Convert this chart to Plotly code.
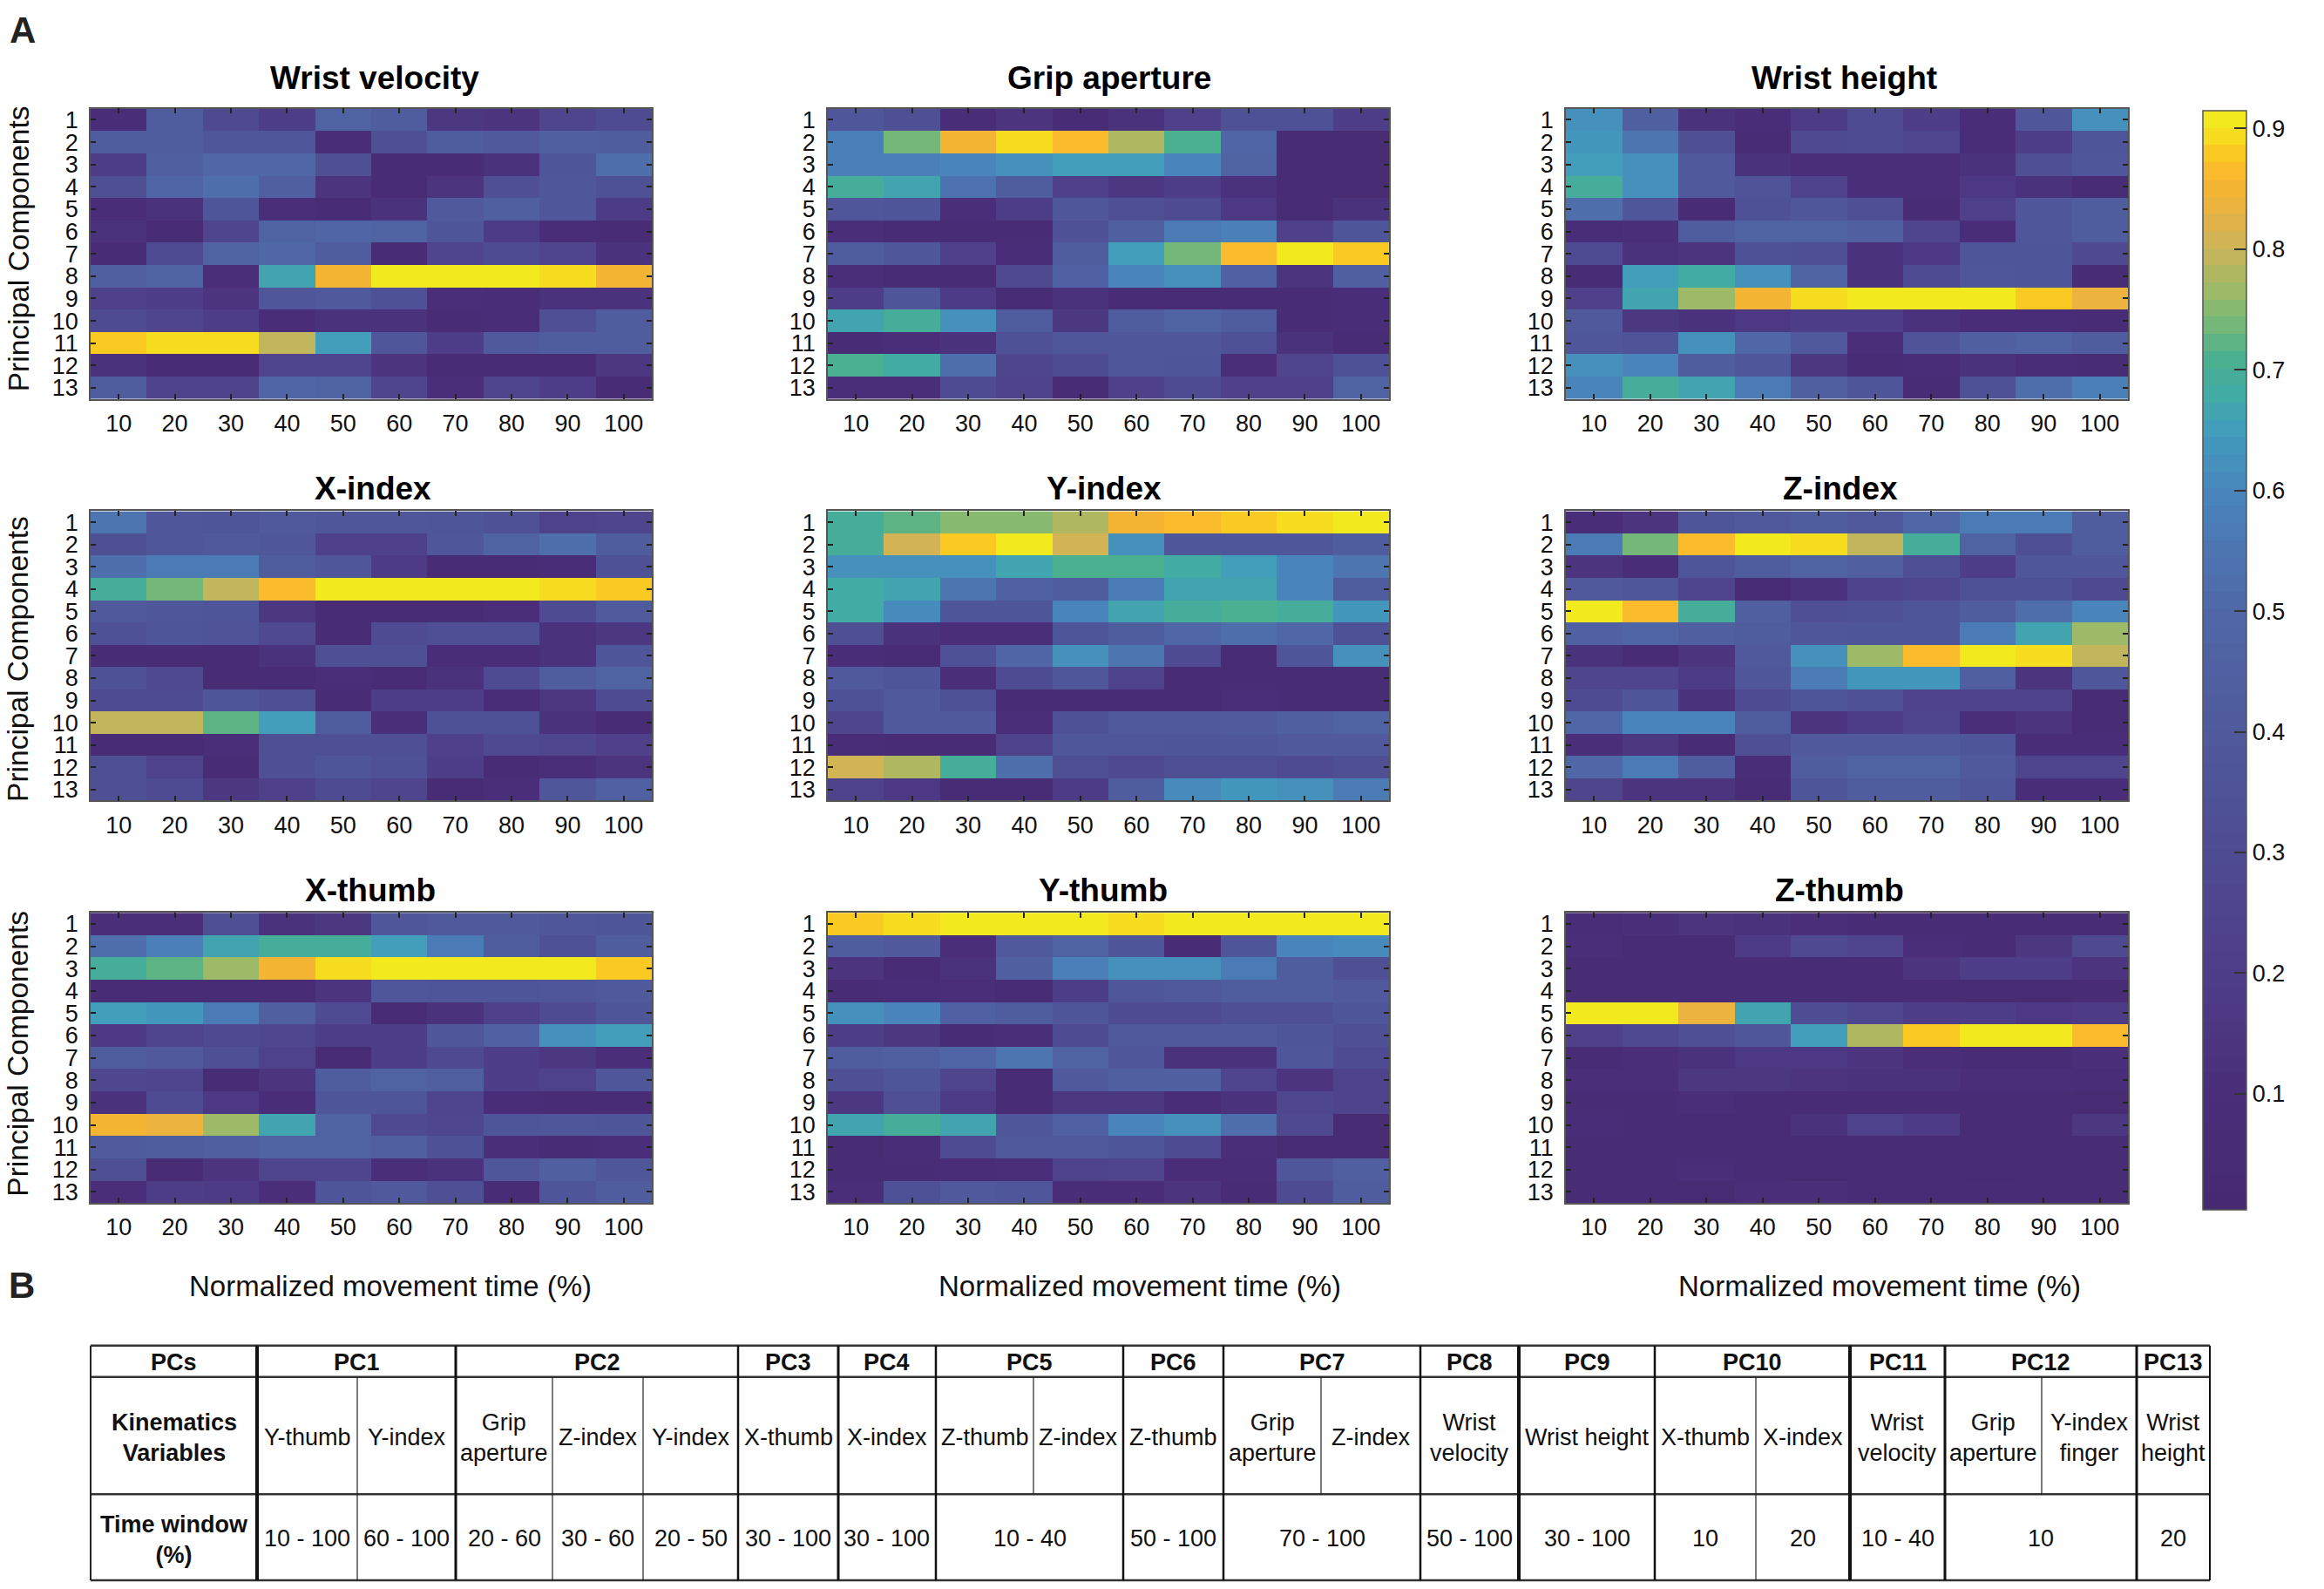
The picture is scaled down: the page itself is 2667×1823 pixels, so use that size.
import plotly.graph_objects as go
from plotly.colors import sample_colorscale

W = 2667
H = 1823
FONT = "Liberation Sans"

time_ticks = [10, 20, 30, 40, 50, 60, 70, 80, 90, 100]
pc_ticks = [1, 2, 3, 4, 5, 6, 7, 8, 9, 10, 11, 12, 13]
cbar_ticks = [0.1, 0.2, 0.3, 0.4, 0.5, 0.6, 0.7, 0.8, 0.9]

wrist_velocity = [
    [.08, .42, .28, .20, .46, .42, .16, .14, .25, .30],
    [.42, .42, .38, .38, .08, .33, .42, .40, .44, .42],
    [.20, .44, .50, .50, .32, .05, .05, .12, .36, .53],
    [.32, .48, .52, .44, .14, .05, .14, .32, .38, .34],
    [.08, .12, .36, .10, .06, .12, .40, .44, .38, .18],
    [.12, .06, .26, .46, .48, .46, .36, .18, .08, .06],
    [.07, .30, .46, .50, .42, .06, .26, .30, .26, .13],
    [.44, .47, .10, .66, .85, .91, .91, .91, .90, .85],
    [.22, .20, .14, .38, .40, .34, .10, .08, .12, .12],
    [.30, .25, .20, .08, .12, .12, .07, .08, .32, .43],
    [.88, .90, .895, .80, .65, .38, .20, .40, .42, .42],
    [.12, .06, .07, .26, .26, .14, .07, .06, .06, .16],
    [.42, .24, .24, .48, .46, .26, .10, .26, .20, .07],
]
grip_aperture = [
    [.38, .32, .08, .14, .05, .12, .22, .34, .34, .20],
    [.58, .73, .85, .895, .87, .78, .71, .48, .05, .04],
    [.58, .58, .60, .63, .65, .65, .60, .46, .05, .04],
    [.70, .67, .54, .42, .22, .15, .20, .13, .05, .04],
    [.38, .36, .10, .20, .38, .33, .30, .17, .06, .12],
    [.09, .05, .06, .07, .34, .44, .56, .58, .22, .36],
    [.42, .38, .22, .08, .42, .65, .74, .87, .91, .88],
    [.09, .06, .07, .28, .45, .60, .62, .45, .14, .44],
    [.20, .36, .18, .05, .12, .05, .05, .07, .07, .08],
    [.67, .69, .63, .42, .15, .42, .46, .42, .07, .08],
    [.05, .10, .12, .34, .38, .38, .38, .34, .13, .07],
    [.71, .68, .53, .26, .30, .38, .36, .09, .26, .34],
    [.09, .09, .30, .24, .05, .22, .30, .23, .22, .46],
]
wrist_height = [
    [.62, .44, .13, .08, .18, .30, .20, .08, .38, .62],
    [.64, .55, .33, .05, .28, .30, .27, .08, .20, .36],
    [.65, .63, .40, .12, .10, .11, .09, .12, .32, .38],
    [.70, .63, .40, .35, .24, .11, .09, .17, .13, .06],
    [.52, .38, .05, .34, .38, .33, .05, .22, .38, .42],
    [.08, .11, .42, .47, .47, .44, .26, .08, .38, .42],
    [.30, .13, .14, .34, .32, .12, .17, .36, .36, .28],
    [.07, .65, .68, .63, .46, .12, .30, .38, .36, .07],
    [.22, .66, .77, .85, .89, .91, .91, .91, .88, .83],
    [.40, .16, .13, .17, .20, .20, .13, .08, .08, .07],
    [.38, .35, .62, .50, .40, .09, .35, .44, .46, .43],
    [.62, .60, .42, .38, .16, .07, .08, .12, .08, .07],
    [.60, .69, .66, .56, .44, .36, .06, .34, .52, .58],
]
x_index = [
    [.55, .38, .36, .40, .38, .38, .36, .34, .24, .26],
    [.32, .38, .40, .38, .22, .22, .38, .47, .52, .42],
    [.52, .56, .56, .43, .38, .18, .05, .07, .08, .34],
    [.69, .74, .80, .86, .91, .91, .91, .91, .90, .88],
    [.40, .38, .36, .15, .07, .07, .05, .10, .30, .41],
    [.34, .36, .35, .28, .07, .30, .32, .32, .13, .15],
    [.05, .05, .05, .13, .32, .32, .08, .08, .13, .36],
    [.34, .28, .07, .07, .09, .05, .12, .30, .42, .46],
    [.30, .30, .36, .33, .05, .20, .20, .08, .16, .30],
    [.79, .79, .72, .65, .42, .09, .34, .34, .13, .05],
    [.05, .05, .09, .33, .33, .33, .22, .28, .27, .22],
    [.32, .24, .05, .33, .37, .34, .20, .05, .10, .14],
    [.32, .30, .16, .22, .30, .26, .05, .10, .38, .45],
]
y_index = [
    [.69, .72, .75, .75, .78, .85, .87, .875, .90, .91],
    [.70, .81, .88, .905, .81, .63, .38, .38, .38, .43],
    [.62, .62, .62, .67, .71, .71, .68, .65, .60, .55],
    [.68, .66, .55, .45, .43, .56, .67, .67, .59, .42],
    [.68, .61, .36, .36, .60, .67, .69, .71, .70, .64],
    [.32, .12, .09, .10, .36, .43, .50, .53, .50, .34],
    [.08, .07, .34, .48, .62, .55, .30, .07, .36, .62],
    [.40, .36, .10, .30, .38, .24, .07, .07, .05, .06],
    [.34, .40, .34, .05, .07, .05, .06, .09, .05, .07],
    [.26, .40, .40, .10, .34, .40, .40, .41, .44, .46],
    [.08, .07, .05, .24, .38, .38, .37, .38, .40, .40],
    [.81, .78, .69, .52, .33, .28, .33, .32, .30, .33],
    [.24, .17, .06, .05, .18, .43, .61, .64, .62, .56],
]
z_index = [
    [.08, .14, .36, .40, .42, .40, .50, .57, .57, .42],
    [.56, .73, .87, .91, .90, .80, .69, .46, .32, .42],
    [.14, .08, .36, .42, .46, .44, .32, .20, .38, .38],
    [.40, .38, .26, .05, .12, .24, .27, .34, .34, .28],
    [.91, .86, .69, .44, .32, .34, .36, .42, .52, .60],
    [.45, .48, .44, .42, .38, .36, .36, .57, .67, .76],
    [.12, .06, .14, .40, .63, .76, .86, .91, .89, .79],
    [.26, .26, .18, .38, .56, .64, .64, .44, .14, .38],
    [.30, .36, .12, .30, .36, .34, .24, .24, .24, .07],
    [.50, .60, .60, .42, .14, .20, .26, .09, .14, .06],
    [.10, .16, .07, .33, .40, .40, .40, .36, .08, .08],
    [.50, .56, .42, .08, .42, .46, .46, .40, .26, .26],
    [.26, .14, .14, .06, .36, .42, .42, .38, .08, .08],
]
x_thumb = [
    [.09, .09, .32, .12, .16, .38, .40, .40, .38, .37],
    [.52, .58, .66, .69, .69, .65, .56, .42, .34, .42],
    [.69, .72, .76, .85, .89, .91, .91, .91, .905, .88],
    [.06, .06, .06, .06, .14, .38, .36, .36, .38, .40],
    [.65, .64, .56, .44, .30, .05, .13, .22, .30, .36],
    [.17, .26, .28, .27, .19, .20, .38, .45, .62, .65],
    [.42, .39, .33, .24, .05, .20, .28, .20, .16, .09],
    [.27, .26, .07, .14, .42, .47, .44, .20, .24, .38],
    [.13, .30, .17, .08, .36, .37, .26, .08, .07, .05],
    [.85, .83, .76, .67, .46, .28, .27, .36, .38, .36],
    [.41, .42, .44, .46, .47, .44, .34, .11, .07, .10],
    [.32, .07, .14, .26, .25, .09, .12, .38, .44, .38],
    [.09, .20, .18, .10, .36, .40, .32, .05, .36, .42],
]
y_thumb = [
    [.885, .895, .91, .91, .91, .90, .91, .91, .91, .91],
    [.43, .40, .10, .40, .46, .36, .05, .37, .60, .61],
    [.14, .05, .12, .44, .58, .63, .63, .57, .42, .33],
    [.07, .08, .10, .06, .20, .38, .40, .42, .43, .40],
    [.63, .59, .45, .43, .36, .30, .30, .32, .33, .37],
    [.20, .15, .05, .10, .30, .39, .39, .40, .37, .33],
    [.43, .44, .48, .55, .46, .38, .12, .12, .38, .30],
    [.33, .36, .26, .05, .40, .44, .44, .26, .14, .24],
    [.15, .33, .18, .07, .15, .15, .08, .12, .27, .24],
    [.66, .69, .66, .38, .45, .60, .62, .52, .28, .04],
    [.04, .08, .30, .40, .40, .37, .30, .09, .04, .04],
    [.05, .07, .08, .09, .24, .26, .08, .08, .38, .44],
    [.10, .34, .40, .38, .08, .08, .14, .05, .30, .42],
]
z_thumb = [
    [.08, .11, .14, .13, .09, .07, .06, .05, .05, .05],
    [.09, .07, .07, .18, .28, .26, .09, .06, .15, .28],
    [.06, .05, .05, .05, .05, .06, .14, .20, .20, .14],
    [.06, .06, .05, .05, .07, .07, .06, .04, .04, .05],
    [.91, .91, .84, .66, .31, .27, .20, .20, .17, .18],
    [.22, .28, .32, .38, .65, .78, .88, .91, .91, .87],
    [.07, .10, .13, .17, .17, .14, .09, .07, .07, .11],
    [.09, .09, .15, .16, .14, .12, .12, .09, .09, .08],
    [.05, .05, .09, .07, .06, .06, .07, .07, .06, .04],
    [.08, .07, .06, .07, .13, .24, .18, .07, .07, .16],
    [.05, .05, .05, .04, .04, .04, .04, .05, .04, .05],
    [.05, .05, .09, .05, .04, .05, .05, .04, .05, .06],
    [.07, .07, .04, .10, .11, .07, .05, .07, .07, .05],
]

panel_names = ["Wrist velocity", "Grip aperture", "Wrist height",
               "X-index", "Y-index", "Z-index",
               "X-thumb", "Y-thumb", "Z-thumb"]
panel_values = [wrist_velocity, grip_aperture, wrist_height,
                x_index, y_index, z_index,
                x_thumb, y_thumb, z_thumb]

table_pcs = ["PC1", "PC2", "PC3", "PC4", "PC5", "PC6", "PC7",
             "PC8", "PC9", "PC10", "PC11", "PC12", "PC13"]
table_vars = [
    ["Y-thumb", "Y-index"],
    ["Grip<br>aperture", "Z-index", "Y-index"],
    ["X-thumb"],
    ["X-index"],
    ["Z-thumb", "Z-index"],
    ["Z-thumb"],
    ["Grip<br>aperture", "Z-index"],
    ["Wrist<br>velocity"],
    ["Wrist height"],
    ["X-thumb", "X-index"],
    ["Wrist<br>velocity"],
    ["Grip<br>aperture", "Y-index<br>finger"],
    ["Wrist<br>height"],
]
table_windows = [
    ["10 - 100", "60 - 100"],
    ["20 - 60", "30 - 60", "20 - 50"],
    ["30 - 100"],
    ["30 - 100"],
    ["10 - 40"],
    ["50 - 100"],
    ["70 - 100"],
    ["50 - 100"],
    ["30 - 100"],
    ["10", "20"],
    ["10 - 40"],
    ["10"],
    ["20"],
]

# colormap stops (value, colour)
cmap_min = 0.004
cmap_max = 0.915
cmap_stops = [
    (0.004, "#46296f"), (0.1, "#4a2e7a"), (0.2, "#4e3e87"), (0.3, "#4f4c92"),
    (0.4, "#4f5a9c"), (0.5, "#4f68a7"), (0.55, "#4d75b1"), (0.6, "#4886bc"),
    (0.65, "#429dbc"), (0.68, "#41aba4"), (0.71, "#4ab08e"), (0.74, "#77b877"),
    (0.77, "#a3ba64"), (0.8, "#c9b55a"), (0.83, "#e8b244"), (0.86, "#f9b62f"),
    (0.88, "#fbcb22"), (0.895, "#f6df1f"), (0.905, "#f2e91e"), (0.915, "#f2e91e"),
]


def stepped_scale(levels=64):
    # MATLAB style colormap: flat bands
    base = [[(v - cmap_min) / (cmap_max - cmap_min), c] for v, c in cmap_stops]
    scale = []
    for i in range(levels):
        c = sample_colorscale(base, [(i + 0.5) / levels])[0]
        scale.append([i / levels, c])
        scale.append([(i + 1) / levels, c])
    return scale


def px_x(x):
    return x / W


def px_y(y):
    return 1 - y / H


col_edges = [(104, 748), (950, 1594), (1797, 2442)]
row_edges = [(123, 457), (586, 919), (1048, 1382)]
title_pos = [(430, 88), (1273, 88), (2116, 88),
             (428, 560), (1267, 560), (2112, 560),
             (425, 1022), (1266, 1022), (2111, 1022)]

fig = go.Figure()
colorscale = stepped_scale()

annotations = []
shapes = []


def add_text(text, x, y, size, bold=False, color="#111111", angle=0, xanchor="center"):
    if bold:
        text = "<b>" + text + "</b>"
    annotations.append(dict(
        text=text, x=px_x(x), y=px_y(y), xref="paper", yref="paper",
        showarrow=False, xanchor=xanchor, yanchor="middle", textangle=angle,
        font=dict(family=FONT, size=size, color=color),
    ))


for i, name in enumerate(panel_names):
    row = i // 3
    col = i % 3
    suffix = "" if i == 0 else str(i + 1)
    fig.add_trace(go.Heatmap(
        z=panel_values[i],
        x=time_ticks,
        y=pc_ticks,
        xaxis="x" + suffix,
        yaxis="y" + suffix,
        zmin=cmap_min,
        zmax=cmap_max,
        colorscale=colorscale,
        showscale=(i == 0),
        colorbar=dict(
            x=px_x(2528), xanchor="left", xpad=0,
            y=px_y(125), yanchor="top", ypad=0,
            len=(1389 - 125) / H, lenmode="fraction",
            thickness=50, thicknessmode="pixels",
            tickvals=cbar_ticks, ticktext=[str(t) for t in cbar_ticks],
            ticks="inside", ticklen=14, tickwidth=2, tickcolor="#333333",
            outlinewidth=1.5, outlinecolor="#555555",
            tickfont=dict(family=FONT, size=27, color="#111111"),
        ),
    ))
    x0, x1 = col_edges[col]
    y0, y1 = row_edges[row]
    fig.update_layout({
        "xaxis" + suffix: dict(
            domain=[px_x(x0), px_x(x1)],
            anchor="y" + suffix,
            range=[5, 105],
            tickvals=time_ticks,
            ticks="inside", ticklen=6, tickwidth=1.5, tickcolor="#222222",
            ticklabelstandoff=3,
            showline=True, linewidth=1.5, linecolor="#555555", mirror="ticks",
            showgrid=False, zeroline=False,
            tickfont=dict(family=FONT, size=27, color="#111111"),
        ),
        "yaxis" + suffix: dict(
            domain=[px_y(y1), px_y(y0)],
            anchor="x" + suffix,
            range=[13.5, 0.5],
            tickvals=pc_ticks,
            ticks="inside", ticklen=6, tickwidth=1.5, tickcolor="#222222",
            ticklabelstandoff=7,
            showline=True, linewidth=1.5, linecolor="#555555", mirror="ticks",
            showgrid=False, zeroline=False,
            tickfont=dict(family=FONT, size=27, color="#111111"),
        ),
    })
    add_text(name, title_pos[i][0], title_pos[i][1], 37, bold=True, color="#000000")

for yc in [284, 756, 1210]:
    add_text("Principal Components", 21, yc, 33.5, angle=-90)
for xc in [448, 1308, 2157]:
    add_text("Normalized movement time (%)", xc, 1478, 33)
add_text("A", 26, 33, 42, bold=True, color="#222222")
add_text("B", 25, 1477, 42, bold=True, color="#222222")

# table B, drawn with lines and text because it has merged cells
tbl_top = 1546
tbl_head = 1582
tbl_mid = 1717
tbl_bot = 1816
tbl_left = 104
tbl_first = 295
tbl_right = 2536
# right edge and thickness of each PC column
pc_right = [(523, 3), (847, 2.5), (962, 3), (1074, 2.5), (1289, 2.5), (1404, 2.5),
            (1630, 2.5), (1743, 4), (1899, 2.5), (2123, 4), (2232, 3), (2452, 3), (2536, 2)]
# inner edges of the variables row, per PC
pc_inner = [[410], [634, 738], [], [], [1186], [], [1516], [], [], [2015], [], [2343], []]


def add_line(x0, y0, x1, y1, width=1.5, color="#222222"):
    shapes.append(dict(type="line", xref="paper", yref="paper",
                       x0=px_x(x0), y0=px_y(y0), x1=px_x(x1), y1=px_y(y1),
                       line=dict(color=color, width=width)))


for y in [tbl_top, tbl_head, tbl_mid, tbl_bot]:
    add_line(tbl_left, y, tbl_right, y, width=2.5, color="#333333")
add_line(tbl_left, tbl_top, tbl_left, tbl_bot, width=2)
add_line(tbl_first, tbl_top, tbl_first, tbl_bot, width=4, color="#111111")

add_text("PCs", (tbl_left + tbl_first) / 2, 1565, 27, bold=True)
add_text("Kinematics<br>Variables", (tbl_left + tbl_first) / 2, 1652, 27, bold=True)
add_text("Time window<br>(%)", (tbl_left + tbl_first) / 2, 1769, 27, bold=True)

left = tbl_first
for i, pc in enumerate(table_pcs):
    right, thick = pc_right[i]
    add_line(right, tbl_top, right, tbl_bot, width=thick, color="#111111")
    add_text(pc, (left + right) / 2, 1565, 27, bold=True)
    edges = [left] + pc_inner[i] + [right]
    merged = len(table_windows[i]) == 1
    for j, var in enumerate(table_vars[i]):
        add_text(var, (edges[j] + edges[j + 1]) / 2, 1652, 27)
    for j, win in enumerate(table_windows[i]):
        if merged:
            add_text(win, (left + right) / 2, 1768, 27)
        else:
            add_text(win, (edges[j] + edges[j + 1]) / 2, 1768, 27)
    for e in pc_inner[i]:
        add_line(e, tbl_head, e, tbl_mid if merged else tbl_bot, width=1.2)
    left = right

fig.update_layout(
    width=W,
    height=H,
    autosize=False,
    margin=dict(l=0, r=0, t=0, b=0),
    paper_bgcolor="white",
    plot_bgcolor="white",
    showlegend=False,
    annotations=annotations,
    shapes=shapes,
)

fig.write_html("out.html", config=dict(displayModeBar=False),
               post_script="document.body.style.margin='0';")
